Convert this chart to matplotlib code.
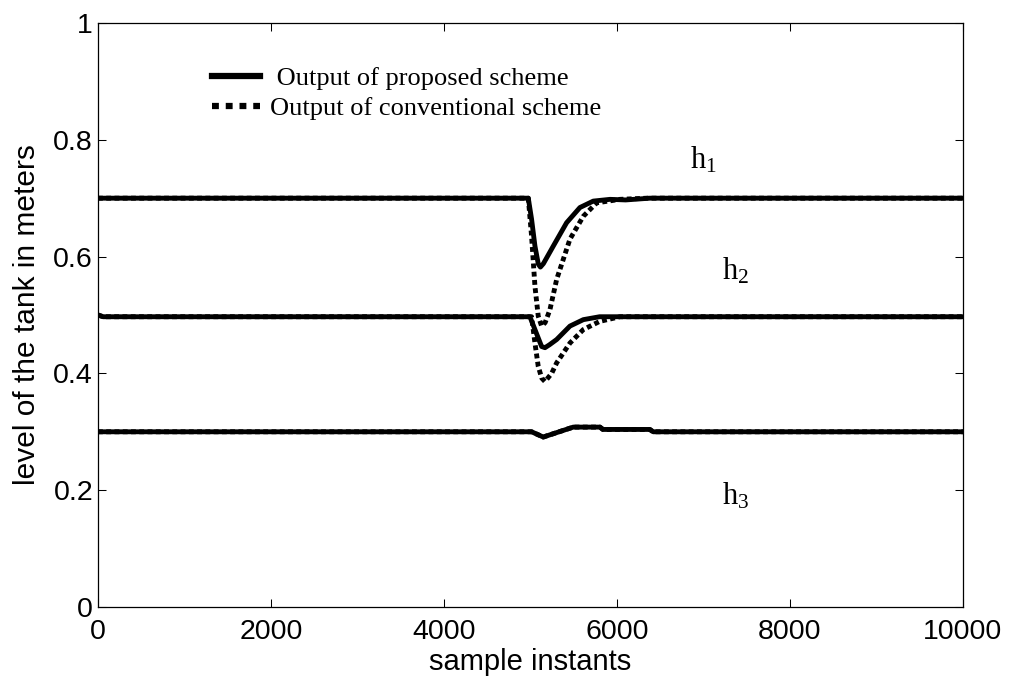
import matplotlib
matplotlib.use("Agg")
import matplotlib.pyplot as plt
from matplotlib.lines import Line2D

# ---------------- data ----------------
t_h1_prop = [0, 4975, 5013, 5052, 5091, 5115, 5150, 5264, 5418, 5572, 5726, 5920, 6100, 6380, 10000]
h1_prop   = [0.700, 0.700, 0.664, 0.618, 0.587, 0.582, 0.588, 0.618, 0.658, 0.684, 0.695, 0.698, 0.697, 0.700, 0.700]

t_h1_conv = [0, 4975, 5013, 5052, 5090, 5129, 5170, 5225, 5303, 5457, 5611, 5765, 6035, 6350, 10000]
h1_conv   = [0.700, 0.700, 0.635, 0.549, 0.498, 0.481, 0.487, 0.509, 0.561, 0.630, 0.669, 0.692, 0.698, 0.700, 0.700]

t_h2_prop = [0, 60, 4994, 5052, 5129, 5168, 5220, 5303, 5457, 5611, 5800, 10000]
h2_prop   = [0.500, 0.497, 0.497, 0.475, 0.446, 0.444, 0.449, 0.458, 0.481, 0.492, 0.497, 0.497]

t_h2_conv = [0, 60, 5013, 5052, 5090, 5130, 5168, 5245, 5303, 5457, 5611, 5800, 6035, 10000]
h2_conv   = [0.500, 0.497, 0.497, 0.452, 0.412, 0.392, 0.386, 0.400, 0.418, 0.452, 0.475, 0.489, 0.497, 0.497]

t_h3 = [0, 5013, 5148, 5250, 5495, 5803, 5838, 6380, 6418, 10000]
h3_prop = [0.300, 0.300, 0.291, 0.296, 0.308, 0.308, 0.304, 0.304, 0.300, 0.300]
h3_conv = [0.300, 0.300, 0.291, 0.296, 0.308, 0.308, 0.304, 0.304, 0.300, 0.300]

x_ticks = [0, 2000, 4000, 6000, 8000, 10000]
y_ticks = [0, 0.2, 0.4, 0.6, 0.8, 1.0]
y_tick_labels = ["0", "0.2", "0.4", "0.6", "0.8", "1"]

legend_labels = [" Output of proposed scheme", "Output of conventional scheme"]
tank_labels = [r"h$_1$", r"h$_2$", r"h$_3$"]
tank_label_pos = [(6844, 0.751), (7214, 0.561), (7214, 0.175)]

x_label = "sample instants"
y_label = "level of the tank in meters"

# ---------------- style ----------------
plt.rcParams["font.family"] = ["Liberation Sans", "DejaVu Sans"]
plt.rcParams["mathtext.fontset"] = "custom"
plt.rcParams["mathtext.rm"] = "Liberation Serif"
plt.rcParams["mathtext.it"] = "Liberation Serif"

fig = plt.figure(figsize=(10.1, 6.84), dpi=100)
ax = fig.add_axes([0.0970, 0.1126, 0.8564, 0.8538])

lw = 3.5
dot = (0, (1.0, 0.7))
ax.plot(t_h1_conv, h1_conv, color="black", lw=lw, ls=dot, dash_capstyle="butt")
ax.plot(t_h2_conv, h2_conv, color="black", lw=lw, ls=dot, dash_capstyle="butt")
ax.plot(t_h3, h3_conv, color="black", lw=lw, ls=dot, dash_capstyle="butt")
ax.plot(t_h1_prop, h1_prop, color="black", lw=lw, solid_joinstyle="round")
ax.plot(t_h2_prop, h2_prop, color="black", lw=lw, solid_joinstyle="round")
ax.plot(t_h3, h3_prop, color="black", lw=lw, solid_joinstyle="round")

ax.set_xlim(0, 10000)
ax.set_ylim(0, 1)
ax.set_xticks(x_ticks)
ax.set_xticklabels([str(v) for v in x_ticks])
ax.set_yticks(y_ticks)
ax.set_yticklabels(y_tick_labels)
ax.tick_params(direction="in", length=6, width=0.75, top=True, right=True,
               labelsize=20.5)
ax.tick_params(axis="x", pad=8.5)
ax.tick_params(axis="y", pad=3.5)
for s in ax.spines.values():
    s.set_linewidth(0.9)

ax.set_xlabel(x_label, fontsize=21, labelpad=2)
ax.set_ylabel(y_label, fontsize=21.5, labelpad=9)

for lab, (xx, yy) in zip(tank_labels, tank_label_pos):
    ax.text(xx, yy, lab, fontsize=22, family="Liberation Serif", va="baseline", ha="left")

handles = [Line2D([], [], color="black", lw=4.5),
           Line2D([], [], color="black", lw=4.5, ls=(0, (1.1, 1.1)), dash_capstyle="butt")]
ax.legend(handles, legend_labels, loc="upper left", bbox_to_anchor=(0.132, 0.925),
          frameon=False, prop={"family": "Liberation Serif", "size": 19},
          handlelength=1.82, handletextpad=0.38, labelspacing=0.25,
          borderaxespad=0, borderpad=0)

fig.savefig("out.png", dpi=100)
